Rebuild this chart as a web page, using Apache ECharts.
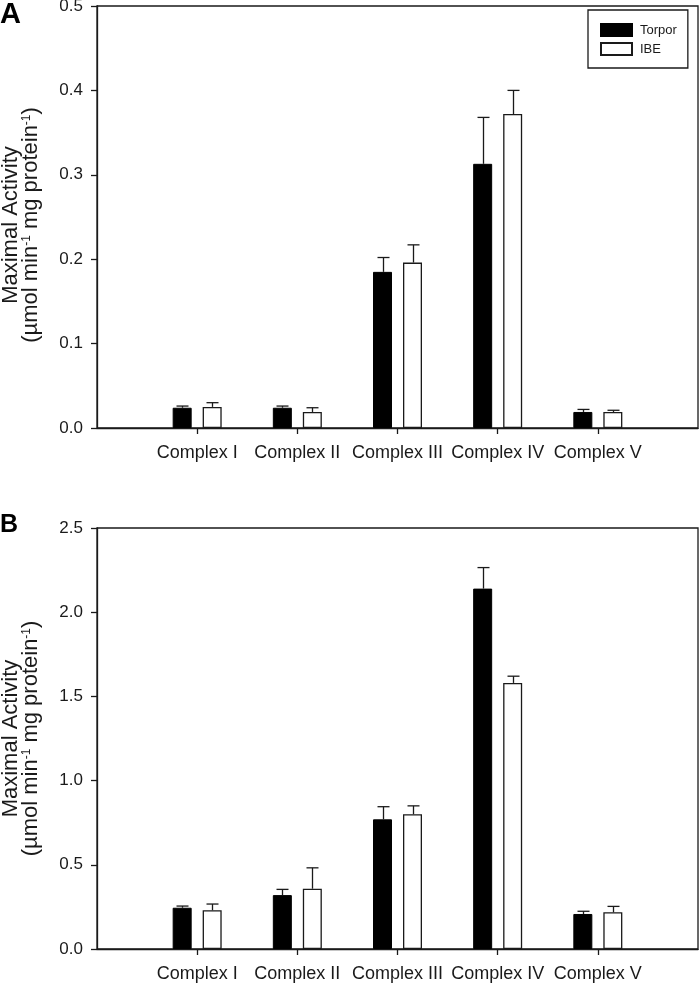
<!DOCTYPE html>
<html>
<head>
<meta charset="utf-8">
<script src="https://cdn.jsdelivr.net/npm/echarts@6/dist/echarts.min.js"></script>
<style>html,body{margin:0;padding:0;background:#fff;}#c{width:700px;height:985px;}</style>
</head>
<body>
<div id="c"></div>
<script>
const categories = ['Complex I', 'Complex II', 'Complex III', 'Complex IV', 'Complex V'];
const seriesNames = ['Torpor', 'IBE'];
// Panel A
const torporA = [0.024, 0.024, 0.185, 0.313, 0.019];
const torporAErr = [0.002, 0.002, 0.017, 0.055, 0.003];
const ibeA = [0.025, 0.019, 0.196, 0.372, 0.019];
const ibeAErr = [0.005, 0.005, 0.021, 0.028, 0.002];
const yAxisA = { min: 0, max: 0.5, interval: 0.1 };
// Panel B
const torporB = [0.245, 0.32, 0.77, 2.14, 0.208];
const torporBErr = [0.01, 0.034, 0.075, 0.125, 0.016];
const ibeB = [0.23, 0.358, 0.80, 1.58, 0.218];
const ibeBErr = [0.037, 0.124, 0.05, 0.04, 0.035];
const yAxisB = { min: 0, max: 2.5, interval: 0.5 };
const yTitle = '{a|Maximal Activity}\n{a|(µmol min}{s|-1}{a| mg protein}{s|-1}{a|)}';
const panelLetters = ['A', 'B'];

const FONT = '"Liberation Sans", Arial, sans-serif';
const INK = '#1a1a1a';
const BAR_W = 19, GAP = 11, OFF = (BAR_W + GAP) / 2, CAP = 6;

const axisCats = [''].concat(categories, ['']);
const inner = (i) => i > 0 && i < axisCats.length - 1;

function barData(vals) { return vals.map((v, i) => [i + 1, v]); }
function errData(vals, errs) { return vals.map((v, i) => [i + 1, v, errs[i]]); }

function errSeries(name, idx, vals, errs, offset) {
  return {
    type: 'custom', name: name, xAxisIndex: idx, yAxisIndex: idx, z: 5,
    encode: { x: 0, y: 1 },
    data: errData(vals, errs),
    renderItem: function (params, api) {
      const x = api.value(0), y = api.value(1), e = api.value(2);
      const p0 = api.coord([x, y]);
      const p1 = api.coord([x, y + e]);
      const cx = Math.round(p0[0] + offset) + 0.5;
      const st = { stroke: INK, lineWidth: 1.3 };
      return { type: 'group', children: [
        { type: 'line', shape: { x1: cx, y1: p0[1], x2: cx, y2: p1[1] }, style: st },
        { type: 'line', shape: { x1: cx - CAP, y1: p1[1], x2: cx + CAP, y2: p1[1] }, style: st }
      ] };
    }
  };
}

function xAxis(idx) {
  return {
    type: 'category', gridIndex: idx, data: axisCats, boundaryGap: false,
    axisLine: { lineStyle: { color: INK, width: 1.3 } },
    axisTick: { show: true, interval: inner, length: 6, lineStyle: { color: INK, width: 1.3 } },
    axisLabel: { interval: inner, fontSize: 18, fontFamily: FONT, color: INK, margin: 16 },
    splitLine: { show: false }
  };
}
function yAxis(idx, cfg, shift) {
  return {
    type: 'value', gridIndex: idx, min: cfg.min, max: cfg.max, interval: cfg.interval,
    axisLine: { show: true, lineStyle: { color: INK, width: 1.3 } },
    axisTick: { show: true, length: 6, lineStyle: { color: INK, width: 1.3 } },
    axisLabel: { fontSize: 17, fontFamily: FONT, color: INK, margin: 14, formatter: (v) => v.toFixed(1) },
    splitLine: { show: false },
    name: yTitle, nameLocation: 'middle', nameRotate: 90, nameGap: 56,
    nameTextStyle: {
      fontFamily: FONT, color: INK, fontSize: 22, lineHeight: 20,
      padding: [0, shift, 0, 0],
      rich: {
        a: { fontFamily: FONT, color: INK, fontSize: 22, lineHeight: 20 },
        s: { fontFamily: FONT, color: INK, fontSize: 12, lineHeight: 12, verticalAlign: 'top' }
      }
    }
  };
}
function bars(name, idx, vals, filled) {
  return {
    type: 'bar', name: name, xAxisIndex: idx, yAxisIndex: idx,
    barWidth: BAR_W, barGap: (GAP / BAR_W * 100) + '%',
    data: barData(vals),
    itemStyle: filled ? { color: '#000', borderColor: '#000', borderWidth: 1 } : { color: '#fff', borderColor: INK, borderWidth: 1.3 },
    emphasis: { disabled: true }
  };
}

const chart = echarts.init(document.getElementById('c'), null, { renderer: 'canvas' });
chart.setOption({
  animation: false,
  backgroundColor: '#fff',
  grid: [
    { left: 97, right: 2, top: 6, height: 422, show: true, borderColor: INK, borderWidth: 1.3, outerBoundsMode: 'none', containLabel: false },
    { left: 97, right: 2, top: 528, height: 421, show: true, borderColor: INK, borderWidth: 1.3, outerBoundsMode: 'none', containLabel: false }
  ],
  xAxis: [xAxis(0), xAxis(1)],
  yAxis: [yAxis(0, yAxisA, 16), yAxis(1, yAxisB, 0)],
  legend: {
    data: seriesNames, orient: 'vertical', left: 588, top: 10,
    padding: [13, 11, 12, 12], itemWidth: 31, itemHeight: 12, itemGap: 5,
    borderColor: INK, borderWidth: 1.3, icon: 'rect',
    textStyle: { fontFamily: FONT, fontSize: 13, color: INK, padding: [0, 0, 0, 3] },
    selectedMode: false
  },
  series: [
    bars(seriesNames[0], 0, torporA, true),
    bars(seriesNames[1], 0, ibeA, false),
    errSeries('errA0', 0, torporA, torporAErr, -OFF),
    errSeries('errA1', 0, ibeA, ibeAErr, OFF),
    bars(seriesNames[0], 1, torporB, true),
    bars(seriesNames[1], 1, ibeB, false),
    errSeries('errB0', 1, torporB, torporBErr, -OFF),
    errSeries('errB1', 1, ibeB, ibeBErr, OFF)
  ],
  graphic: [
    { type: 'text', left: 0, top: 0, style: { text: panelLetters[0], fontFamily: FONT, fontWeight: 'bold', fontSize: 29, fill: '#000' } },
    { type: 'text', left: 0, top: 513, style: { text: panelLetters[1], fontFamily: FONT, fontWeight: 'bold', fontSize: 25, fill: '#000' } }
  ]
});
</script>
</body>
</html>
